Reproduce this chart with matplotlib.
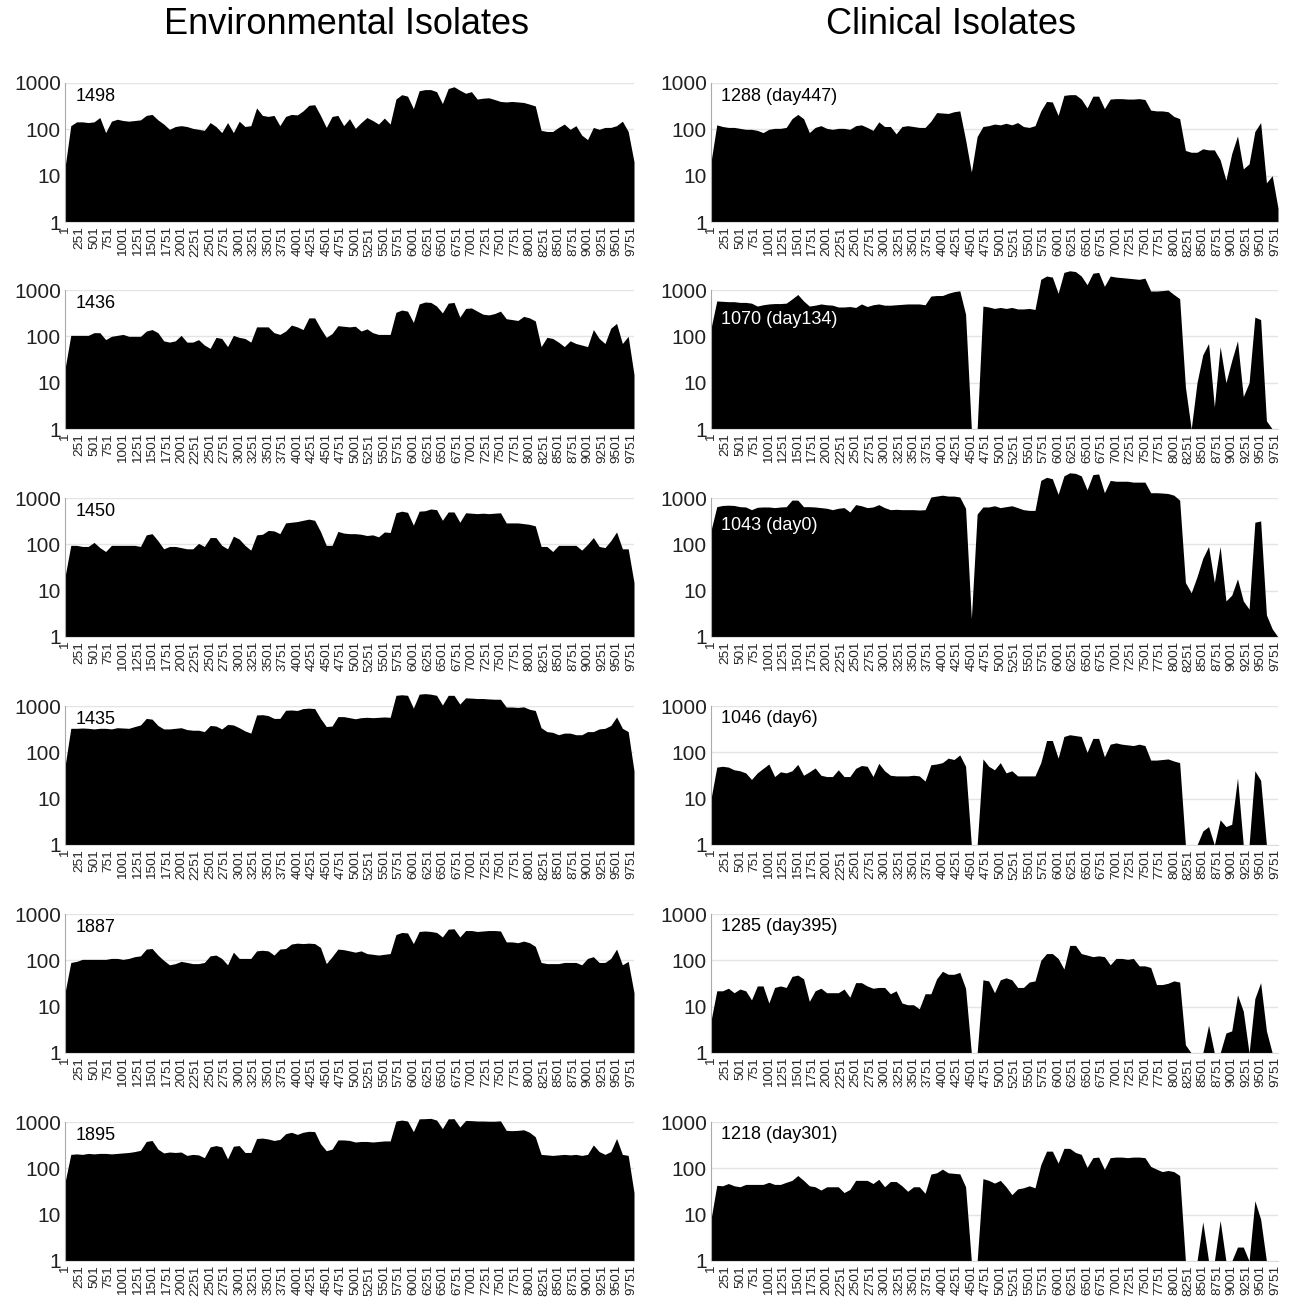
import numpy as np
import matplotlib.pyplot as plt

plt.rcParams['font.family'] = ['Liberation Sans', 'DejaVu Sans']

# genome position of each coverage reading (every 100 bp)
POS = np.arange(0, 9801, 100)
TICKS = list(range(1, 9752, 250))

# environmental isolates
cov_1498 = [15, 120, 145, 145, 140, 145, 180, 85, 150, 165,
            155, 150, 155, 160, 200, 210, 160, 130, 100, 115,
            120, 115, 105, 100, 95, 140, 115, 85, 140, 85,
            150, 115, 120, 290, 200, 190, 200, 120, 190, 210,
            205, 250, 330, 340, 200, 110, 190, 200, 120, 170,
            105, 140, 180, 155, 130, 175, 130, 450, 560, 520,
            280, 680, 720, 720, 650, 360, 760, 830, 700, 600,
            650, 450, 470, 480, 440, 400, 390, 400, 390, 380,
            350, 320, 95, 90, 90, 110, 130, 100, 120, 75,
            60, 110, 100, 110, 110, 120, 150, 90, 20]
cov_1436 = [20, 105, 105, 105, 105, 120, 120, 85, 100, 105,
            110, 100, 100, 100, 130, 140, 120, 80, 75, 80,
            105, 75, 75, 85, 65, 55, 95, 90, 60, 105,
            95, 90, 75, 160, 160, 160, 120, 110, 130, 175,
            160, 140, 250, 250, 150, 95, 115, 170, 165, 160,
            165, 130, 145, 120, 110, 110, 110, 330, 370, 350,
            200, 500, 550, 540, 450, 320, 520, 540, 260, 400,
            410, 350, 300, 290, 310, 350, 240, 230, 220, 270,
            250, 215, 60, 95, 90, 75, 60, 80, 70, 65,
            60, 140, 90, 70, 150, 190, 70, 100, 15]
cov_1450 = [20, 95, 95, 90, 90, 110, 85, 70, 95, 95,
            95, 95, 95, 90, 160, 170, 120, 80, 90, 90,
            85, 80, 80, 105, 90, 140, 140, 95, 80, 150,
            130, 95, 75, 160, 165, 200, 195, 170, 290, 300,
            310, 330, 350, 330, 190, 95, 95, 190, 175, 170,
            170, 165, 155, 160, 145, 185, 180, 480, 520, 490,
            260, 520, 530, 580, 560, 330, 500, 500, 300, 480,
            470, 460, 470, 460, 470, 480, 290, 290, 290, 280,
            270, 250, 90, 90, 70, 95, 95, 95, 95, 75,
            100, 140, 90, 85, 120, 185, 80, 80, 15]
cov_1435 = [50, 330, 330, 335, 330, 320, 330, 330, 320, 340,
            335, 330, 360, 390, 540, 520, 380, 320, 320, 330,
            340, 310, 300, 300, 280, 380, 370, 320, 400, 390,
            340, 290, 260, 640, 650, 620, 540, 540, 810, 820,
            800, 880, 900, 880, 540, 360, 370, 590, 590, 560,
            530, 560, 570, 560, 570, 580, 570, 1700, 1750, 1700,
            900, 1800, 1850, 1800, 1700, 1050, 1700, 1700, 1100, 1500,
            1480, 1450, 1450, 1420, 1400, 1400, 950, 950, 930, 960,
            850, 800, 340, 280, 270, 240, 260, 260, 240, 240,
            280, 280, 320, 330, 380, 580, 330, 280, 40]
cov_1887 = [20, 90, 95, 105, 105, 105, 105, 105, 110, 110,
            105, 110, 120, 125, 175, 180, 130, 100, 80, 85,
            95, 90, 85, 85, 90, 125, 130, 110, 80, 150,
            110, 110, 110, 160, 165, 160, 130, 175, 180, 225,
            235, 230, 235, 230, 190, 85, 120, 175, 170, 160,
            150, 160, 140, 135, 130, 135, 140, 360, 400, 390,
            230, 420, 430, 420, 400, 320, 470, 480, 320, 440,
            440, 420, 430, 440, 440, 430, 250, 250, 240, 260,
            240, 200, 90, 85, 85, 85, 90, 90, 90, 80,
            110, 120, 90, 90, 110, 175, 80, 95, 20]
cov_1895 = [50, 200, 205, 200, 210, 205, 210, 210, 205, 210,
            215, 220, 230, 245, 380, 400, 260, 215, 225, 220,
            225, 190, 200, 195, 170, 290, 310, 290, 160, 300,
            310, 220, 220, 440, 450, 430, 400, 420, 560, 600,
            540, 600, 630, 620, 340, 240, 260, 410, 410, 400,
            370, 380, 380, 370, 380, 390, 390, 1050, 1100, 1050,
            620, 1170, 1180, 1200, 1100, 720, 1170, 1180, 780, 1080,
            1070, 1050, 1050, 1040, 1040, 1060, 660, 650, 660, 680,
            600, 480, 200, 195, 190, 195, 200, 195, 200, 190,
            200, 320, 230, 200, 230, 440, 200, 190, 30]

# clinical isolates (0 = no coverage)
cov_1288 = [20, 125, 115, 110, 110, 105, 100, 100, 95, 85,
            100, 105, 105, 110, 170, 210, 170, 85, 110, 120,
            105, 100, 105, 105, 100, 120, 125, 110, 95, 145,
            115, 115, 80, 115, 120, 115, 110, 110, 150, 230,
            225, 220, 240, 250, 60, 12, 70, 115, 120, 130,
            125, 135, 125, 140, 115, 110, 120, 250, 400, 390,
            200, 540, 560, 560, 450, 290, 520, 520, 280, 450,
            460, 460, 450, 450, 460, 440, 260, 250, 250, 240,
            190, 170, 35, 32, 32, 38, 36, 36, 22, 8,
            30, 72, 14, 18, 90, 140, 7, 10, 2]
cov_1070 = [150, 580, 570, 560, 560, 540, 540, 520, 450, 480,
            500, 510, 510, 520, 640, 800, 580, 450, 470, 500,
            480, 470, 430, 430, 440, 420, 500, 440, 480, 500,
            470, 470, 480, 490, 500, 500, 500, 480, 740, 760,
            760, 850, 920, 960, 300, 0, 0, 450, 430, 400,
            420, 400, 420, 390, 390, 400, 380, 1700, 2000, 1900,
            850, 2400, 2600, 2500, 2000, 1300, 2300, 2400, 1200, 2000,
            1900, 1850, 1800, 1750, 1700, 1800, 950, 950, 970, 1000,
            800, 650, 8, 0, 10, 40, 70, 3, 60, 10,
            30, 80, 5, 10, 260, 230, 1.5, 0, 0]
cov_1043 = [200, 650, 690, 700, 690, 650, 640, 560, 630, 640,
            640, 620, 640, 650, 900, 900, 650, 650, 640, 620,
            600, 560, 600, 620, 500, 720, 680, 620, 640, 720,
            620, 560, 570, 560, 560, 560, 550, 560, 1050, 1100,
            1150, 1100, 1100, 1050, 600, 2.5, 450, 640, 640, 680,
            620, 650, 680, 620, 560, 540, 540, 2400, 2800, 2600,
            1200, 3000, 3500, 3400, 3000, 1500, 3200, 3300, 1300, 2400,
            2300, 2300, 2300, 2200, 2200, 2200, 1300, 1300, 1280, 1250,
            1150, 900, 15, 9, 20, 50, 90, 15, 90, 6,
            8, 18, 6, 4, 300, 320, 3, 1.5, 0]
cov_1046 = [10, 48, 50, 48, 42, 40, 36, 26, 36, 45,
            56, 30, 38, 36, 40, 55, 32, 38, 46, 32,
            30, 30, 42, 30, 30, 45, 52, 50, 30, 58,
            40, 32, 31, 31, 31, 32, 31, 24, 54, 56,
            60, 75, 70, 88, 50, 0, 0, 72, 50, 42,
            60, 36, 40, 31, 31, 31, 31, 60, 180, 180,
            75, 220, 240, 230, 220, 100, 200, 200, 80, 150,
            160, 150, 145, 140, 150, 140, 68, 68, 70, 72,
            65, 60, 0, 0, 0, 2, 2.5, 0, 3.5, 2.5,
            2.8, 28, 0.5, 0, 40, 25, 0, 0, 0]
cov_1285 = [5, 22, 22, 25, 20, 24, 22, 14, 28, 28,
            12, 26, 28, 26, 45, 48, 40, 13, 22, 25,
            20, 20, 20, 24, 16, 33, 33, 28, 25, 26,
            26, 19, 22, 12, 11, 11, 9, 19, 19, 40,
            58, 50, 50, 55, 25, 0, 0, 38, 36, 20,
            38, 42, 38, 26, 26, 34, 36, 100, 140, 140,
            110, 65, 210, 210, 140, 130, 120, 125, 120, 80,
            110, 110, 105, 110, 76, 76, 70, 30, 30, 32,
            36, 34, 1.5, 0, 0, 0, 4, 0, 0, 2.7,
            3, 18, 8, 0, 15, 33, 3, 0, 0]
cov_1218 = [8, 43, 42, 47, 42, 40, 45, 45, 45, 45,
            50, 45, 45, 50, 55, 70, 55, 42, 40, 34,
            40, 40, 40, 30, 35, 55, 55, 55, 47, 58,
            40, 52, 52, 42, 32, 40, 40, 29, 75, 80,
            96, 80, 78, 76, 40, 0, 0, 60, 55, 48,
            55, 40, 27, 36, 38, 42, 38, 120, 235, 235,
            130, 270, 270, 220, 200, 105, 170, 175, 95, 170,
            175, 175, 170, 175, 175, 170, 110, 96, 85, 90,
            85, 70, 0, 0, 0, 7, 0, 0, 7.5, 0,
            0, 2, 2, 0, 20, 8, 0, 0, 0]

env = [('1498', cov_1498), ('1436', cov_1436), ('1450', cov_1450),
       ('1435', cov_1435), ('1887', cov_1887), ('1895', cov_1895)]
clin = [('1288 (day447)', cov_1288), ('1070 (day134)', cov_1070),
        ('1043 (day0)', cov_1043), ('1046 (day6)', cov_1046),
        ('1285 (day395)', cov_1285), ('1218 (day301)', cov_1218)]
# label placement (y in axes fraction, colour)
env_lab = [(0.905, 'black')] * 6
clin_lab = [(0.905, 'black'), (0.785, 'white'), (0.805, 'white'),
            (0.912, 'black'), (0.912, 'black'), (0.912, 'black')]

W, H = 1290, 1300
fig = plt.figure(figsize=(W / 100, H / 100), dpi=100)
row_top = [83, 290, 498, 706, 914, 1122]
ax_h = 139
cols = [(65, 634), (711, 1278)]


def panel(x0, x1, top, label, cov, ly, lcol):
    ax = fig.add_axes([x0 / W, 1 - (top + ax_h) / H, (x1 - x0) / W, ax_h / H])
    y = np.clip(np.array(cov, dtype=float), 1, None)
    ax.fill_between(POS, 1, y, color='black', lw=0, clip_on=False)
    ax.set_yscale('log')
    ax.set_ylim(1, 1000)
    ax.set_xlim(0, 9800)
    ax.minorticks_off()
    ax.set_yticks([1, 10, 100, 1000])
    ax.set_yticklabels(['1', '10', '100', '1000'])
    ax.set_xticks(TICKS)
    ax.set_xticklabels([str(t) for t in TICKS], rotation=90)
    ax.tick_params(axis='y', length=0, labelsize=15, pad=3, colors='#222222')
    ax.tick_params(axis='x', length=0, labelsize=9.7, pad=3, colors='#222222')
    ax.yaxis.grid(True, color='#e4e4e4', lw=1)
    ax.set_axisbelow(True)
    for s in ['top', 'right']:
        ax.spines[s].set_visible(False)
    ax.spines['left'].set_color('#aaaaaa')
    ax.spines['bottom'].set_color('#dddddd')
    ax.text(0.018, ly, label, transform=ax.transAxes, fontsize=13,
            color=lcol, ha='left', va='center')
    return ax


for i in range(6):
    panel(cols[0][0], cols[0][1], row_top[i], env[i][0], env[i][1], *env_lab[i])
    panel(cols[1][0], cols[1][1], row_top[i], clin[i][0], clin[i][1], *clin_lab[i])

fig.text(346 / W, 1 - 25 / H, 'Environmental Isolates', ha='center', va='center', fontsize=26)
fig.text(951 / W, 1 - 25 / H, 'Clinical Isolates', ha='center', va='center', fontsize=26)

fig.savefig('out.png', dpi=100)
